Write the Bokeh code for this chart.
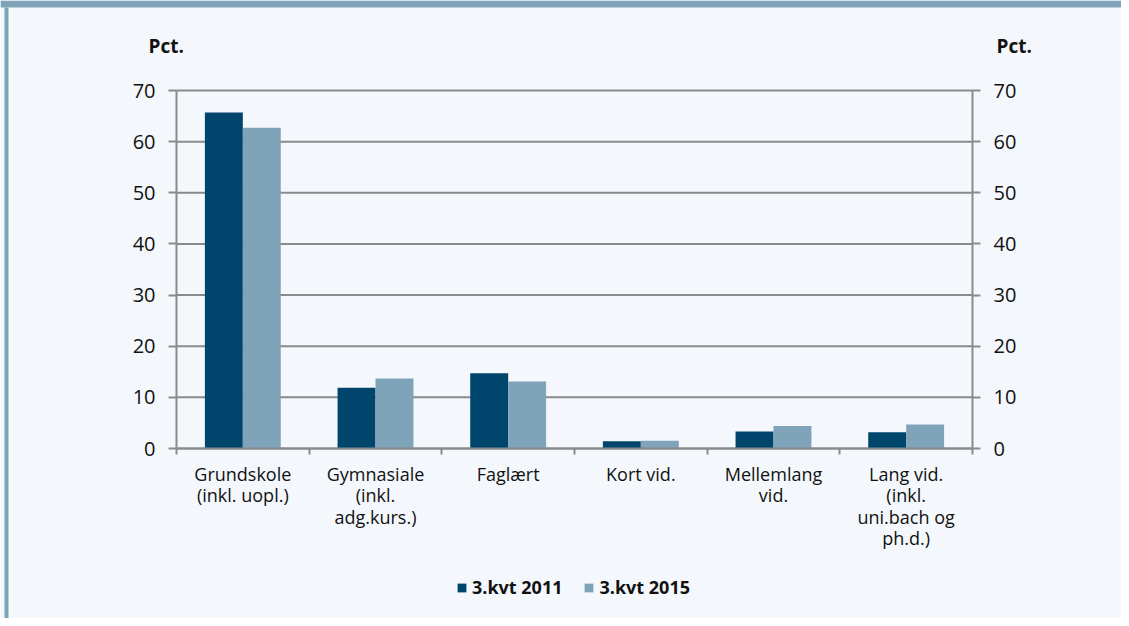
from bokeh.plotting import figure
from bokeh.models import (ColumnDataSource, Range1d, FixedTicker, LinearAxis, Label,
                          BoxAnnotation, Legend, LegendItem)
from bokeh.transform import dodge
from bokeh.embed import file_html
from bokeh.resources import INLINE

categories = ["Grundskole\n(inkl. uopl.)", "Gymnasiale\n(inkl.\nadg.kurs.)", "Faglært",
              "Kort vid.", "Mellemlang\nvid.", "Lang vid.\n(inkl.\nuni.bach og\nph.d.)"]
series_names = ["3.kvt 2011", "3.kvt 2015"]
v2011 = [65.7, 11.9, 14.7, 1.4, 3.3, 3.2]
v2015 = [62.7, 13.7, 13.1, 1.5, 4.4, 4.7]
y_ticks = [0, 10, 20, 30, 40, 50, 60, 70]
y_unit = "Pct."

DARK = "#00466C"
LIGHT = "#7FA3B8"
BG = "#F4F8FC"
GRAY = "#8A8A8A"
TXT = "#111111"
FONT = "Open Sans"

W, H = 1121, 618
# pixel positions of the value box inside the canvas
FL, FR, FT, FB = 176, 972, 90, 448
N = len(categories)
YMAX = 70
sx = (FR - FL) / N
sy = (FB - FT) / YMAX

xs = [i + 0.5 for i in range(N)]
src = ColumnDataSource(dict(x=xs, v2011=v2011, v2015=v2015))
grid_src = ColumnDataSource(dict(y=y_ticks, x0=[0] * len(y_ticks), x1=[N] * len(y_ticks)))

p = figure(width=W, height=H, output_backend="svg", toolbar_location=None,
           x_range=Range1d(-FL / sx, (W - FL) / sx),
           y_range=Range1d(-(H - FB) / sy, FB / sy),
           min_border=0, y_axis_location=None, x_axis_location=None)
p.background_fill_color = BG
p.border_fill_color = BG
p.outline_line_color = None
p.xgrid.visible = False
p.ygrid.visible = False

# horizontal grid lines across the value box only
p.segment(x0="x0", x1="x1", y0="y", y1="y", source=grid_src, line_color=GRAY, line_width=2)

bw = 0.286
r1 = p.vbar(x=dodge("x", -bw / 2, range=p.x_range), top="v2011", width=bw, source=src,
            fill_color=DARK, line_color=None)
r2 = p.vbar(x=dodge("x", bw / 2, range=p.x_range), top="v2015", width=bw, source=src,
            fill_color=LIGHT, line_color=None)

# x axis: category labels at centres, tick marks at boundaries (minor ticks)
xaxis = LinearAxis(ticker=FixedTicker(ticks=xs, minor_ticks=list(range(N + 1))),
                   fixed_location=0, bounds=(0, N))
xaxis.major_label_overrides = {x: c for x, c in zip(xs, categories)}
xaxis.major_tick_line_color = None
xaxis.minor_tick_line_color = GRAY
xaxis.minor_tick_line_width = 2
xaxis.minor_tick_out = 6
xaxis.minor_tick_in = 0
xaxis.axis_line_color = GRAY
xaxis.axis_line_width = 2
xaxis.major_label_standoff = 7
xaxis.major_label_text_font = FONT
xaxis.major_label_text_font_size = "18px"
xaxis.major_label_text_color = TXT
xaxis.major_label_text_line_height = 0.9
p.add_layout(xaxis, "below")

for side, loc in (("left", 0), ("right", N)):
    ax = LinearAxis(ticker=FixedTicker(ticks=y_ticks, minor_ticks=[]),
                    fixed_location=loc, bounds=(0, YMAX))
    ax.axis_line_color = GRAY
    ax.axis_line_width = 2
    ax.major_tick_line_color = GRAY
    ax.major_tick_line_width = 2
    ax.major_tick_out = 8
    ax.major_tick_in = 0
    ax.minor_tick_line_color = None
    ax.major_label_standoff = 13
    ax.major_label_text_font = FONT
    ax.major_label_text_font_size = "20px"
    ax.major_label_text_color = TXT
    p.add_layout(ax, side)

# "Pct." unit labels above both value axes
for x in (148, 996):
    p.add_layout(Label(x=x, y=H - 45, x_units="screen", y_units="screen", text=y_unit,
                       text_font=FONT, text_font_size="19px", text_font_style="bold",
                       text_color=TXT, text_baseline="alphabetic"))

# top band and left border of the frame box
p.add_layout(BoxAnnotation(left=0, right=W, top=H, bottom=H - 7,
                           left_units="screen", right_units="screen", top_units="screen",
                           bottom_units="screen", fill_color=LIGHT, fill_alpha=1,
                           line_color=None, level="overlay"))
p.add_layout(BoxAnnotation(left=4, right=8, top=H - 7, bottom=0,
                           left_units="screen", right_units="screen", top_units="screen",
                           bottom_units="screen", fill_color=LIGHT, fill_alpha=1,
                           line_color=None, level="overlay"))

legend = Legend(items=[LegendItem(label=series_names[0], renderers=[r1]),
                       LegendItem(label=series_names[1], renderers=[r2])],
                orientation="horizontal", location=(456, H - 599),
                glyph_width=11, glyph_height=11, label_standoff=5, spacing=21,
                padding=0, margin=0, border_line_color=None, background_fill_alpha=0,
                label_text_font=FONT, label_text_font_size="18px",
                label_text_font_style="bold", label_text_color=TXT)
p.add_layout(legend, "center")

open("out.html", "w").write(file_html(p, INLINE))
